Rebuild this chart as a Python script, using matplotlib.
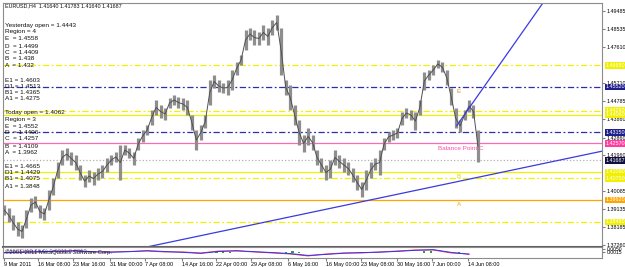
import numpy as np
import matplotlib.pyplot as plt
from matplotlib.transforms import blended_transform_factory

plt.rcParams['font.family'] = ['Liberation Sans', 'DejaVu Sans']

# one sample = 4 H4 bars (high / low)
BARS_PER_SAMPLE = 4
high = [1.3936, 1.3920, 1.3884, 1.3847, 1.3831, 1.3910, 1.3972, 1.3983, 1.3936, 1.3920,
        1.4014, 1.4076, 1.4160, 1.4223, 1.4233, 1.4213, 1.4197, 1.4145, 1.4092, 1.4118,
        1.4108, 1.4129, 1.4145, 1.4181, 1.4197, 1.4213, 1.4249, 1.4249, 1.4233, 1.4213,
        1.4286, 1.4327, 1.4353, 1.4432, 1.4484, 1.4458, 1.4442, 1.4494, 1.4510, 1.4499,
        1.4494, 1.4484, 1.4406, 1.4327, 1.4353, 1.4406, 1.4588, 1.4614, 1.4588, 1.4573,
        1.4588, 1.4641, 1.4682, 1.4719, 1.4849, 1.4860, 1.4849, 1.4839, 1.4876, 1.4860,
        1.4902, 1.4928, 1.4860, 1.4588, 1.4562, 1.4458, 1.4380, 1.4301, 1.4338, 1.4301,
        1.4223, 1.4181, 1.4145, 1.4171, 1.4223, 1.4197, 1.4181, 1.4160, 1.4129, 1.4092,
        1.4055, 1.4118, 1.4160, 1.4181, 1.4223, 1.4286, 1.4317, 1.4327, 1.4338, 1.4421,
        1.4442, 1.4432, 1.4421, 1.4484, 1.4630, 1.4641, 1.4666, 1.4693, 1.4682, 1.4641,
        1.4547, 1.4442, 1.4380, 1.4432, 1.4484, 1.4458, 1.4327]
low = [1.3884, 1.3847, 1.3805, 1.3774, 1.3764, 1.3816, 1.3899, 1.3920, 1.3868, 1.3857,
       1.3910, 1.3988, 1.4076, 1.4145, 1.4171, 1.4145, 1.4118, 1.4066, 1.4029, 1.4055,
       1.4040, 1.4066, 1.4076, 1.4108, 1.4145, 1.4160, 1.4066, 1.4197, 1.4181, 1.4145,
       1.4223, 1.4265, 1.4301, 1.4353, 1.4406, 1.4390, 1.4380, 1.4442, 1.4458, 1.4442,
       1.4432, 1.4406, 1.4327, 1.4223, 1.4275, 1.4338, 1.4458, 1.4547, 1.4526, 1.4520,
       1.4510, 1.4536, 1.4614, 1.4666, 1.4745, 1.4797, 1.4771, 1.4771, 1.4797, 1.4771,
       1.4823, 1.4849, 1.4614, 1.4510, 1.4432, 1.4353, 1.4249, 1.4213, 1.4249, 1.4223,
       1.4145, 1.4108, 1.4066, 1.4076, 1.4145, 1.4129, 1.4108, 1.4092, 1.4055, 1.4014,
       1.3978, 1.4014, 1.4076, 1.4118, 1.4092, 1.4223, 1.4265, 1.4275, 1.4286, 1.4353,
       1.4390, 1.4380, 1.4327, 1.4406, 1.4536, 1.4588, 1.4614, 1.4651, 1.4630, 1.4562,
       1.4458, 1.4338, 1.4317, 1.4380, 1.4421, 1.4390, 1.4160]
last_close = 1.41687

x_labels = ["9 Mar 2011", "16 Mar 08:00", "23 Mar 16:00", "31 Mar 00:00", "7 Apr 08:00",
            "14 Apr 16:00", "22 Apr 00:00", "29 Apr 08:00", "6 May 16:00", "16 May 00:00",
            "23 May 08:00", "30 May 16:00", "7 Jun 00:00", "14 Jun 08:00"]
x_label_bars = [0, 30, 62, 95, 126, 159, 190, 221, 254, 288, 319, 352, 383, 415]

y_ticks = [1.49485, 1.48535, 1.47610, 1.45710, 1.44785, 1.43860, 1.42860, 1.41960,
           1.40085, 1.39135, 1.38185, 1.37260]

# level lines: price, colour, style, box colour
levels = [1.4665, 1.4552, 1.4429, 1.4406, 1.4315, 1.4257, 1.41687, 1.4109, 1.4075, 1.3962, 1.3848]
level_colors = ['#f0f000', '#2e2ea8', '#f0f000', '#f0f000', '#2e2ea8', '#ff69b4',
                '#b0b0b0', '#f0f000', '#f0f000', '#ffa500', '#f0f000']
level_styles = ['dashdot', 'dashdot', 'dashdot', 'solid', 'dashdot', 'solid',
                'dotted', 'solid', 'dashdot', 'solid', 'dashdot']
box_colors = ['#f0f000', '#1e1e8c', '#f0f000', '#f0f000', '#1e1e8c', '#ff3fa0',
              '#101040', '#f0f000', '#f0f000', '#ffa500', '#f0f000']

# trend lines (bar, price) anchors; the second one is a ray
trend1 = [(128, 1.3717), (536, 1.4218)]
trend2 = [(405, 1.4350), (484, 1.5006)]

# bottom oscillator, one value every 16 bars
osc_step = 16
osc_red = [0.0003, 0.0015, 0.0015, 0.0026, 0.0026, 0.0015, 0.0015, 0.0021, 0.0026, 0.0015,
           0.0015, 0.0003, 0.0026, 0.0026, 0.0015, 0.0003, -0.0009, -0.0032, -0.0009, 0.0003,
           0.0003, 0.0015, 0.0026, 0.0038, 0.0038, 0.0003, -0.0009]
osc_blue = [0.0008, 0.0012, 0.0020, 0.0022, 0.0030, 0.0018, 0.0012, 0.0018, 0.0030, 0.0020,
            0.0010, -0.0002, 0.0020, 0.0030, 0.0018, 0.0008, -0.0004, -0.0026, -0.0014, 0.0000,
            0.0008, 0.0012, 0.0022, 0.0034, 0.0042, 0.0010, -0.0012]
green_bars = [190, 196, 202, 252, 258, 264, 320, 376, 382, 407]
green_vals = [0.0022, 0.0025, 0.0020, 0.0018, 0.0022, 0.0015, 0.0015, 0.0025, 0.0022, 0.0012]

W, H = 625, 267
fig = plt.figure(figsize=(W / 100, H / 100), dpi=100)
ax = fig.add_axes([3 / W, 20 / H, 599 / W, 244 / H])
axi = fig.add_axes([3 / W, 9 / H, 599 / W, 11 / H], sharex=ax)

xs = np.arange(len(high)) * BARS_PER_SAMPLE
hi = np.array(high)
lo = np.array(low)
ax.vlines(xs, lo, hi, color='#8e8e8e', lw=2.3, zorder=2)
ax.plot(xs, (hi + lo) / 2, color='#505050', lw=0.7, zorder=2)

for p, c, s in zip(levels, level_colors, level_styles):
    ls = (0, (5, 2, 1.5, 2)) if s == 'dashdot' else s
    ax.axhline(p, color=c, lw=0.9, ls=ls, zorder=1)

ax.axline(trend1[0], trend1[1], color='#3a3ae0', lw=0.9)
slope = (trend2[1][1] - trend2[0][1]) / (trend2[1][0] - trend2[0][0])
ax.plot([trend2[0][0], 535], [trend2[0][1], trend2[0][1] + slope * (535 - trend2[0][0])],
        color='#3a3ae0', lw=0.9)

ax.text(405, 1.4526, 'E', color='#d89030', fontsize=4.6, va='center', zorder=5)
ax.text(388, 1.4233, 'Balance Point C', color='#ff4fa8', fontsize=4.6, va='center', zorder=5)
ax.text(405, 1.4087, 'B', color='#d8d800', fontsize=4.6, va='center', zorder=5)
ax.text(405, 1.3941, 'A', color='#ffa500', fontsize=4.6, va='center', zorder=5)

ax.set_xlim(-1, 535)
ax.set_ylim(1.37166, 1.49903)
ax.yaxis.tick_right()
ax.set_yticks(y_ticks)
ax.set_yticklabels(['%.5f' % v for v in y_ticks])
ax.tick_params(axis='y', labelsize=3.9, length=2, pad=1.5, color='#808080')
ax.tick_params(axis='x', bottom=False, labelbottom=False)
for sp in ax.spines.values():
    sp.set_color('#8c8c8c')
    sp.set_linewidth(0.8)
ax.spines['bottom'].set_color('#606060')
ax.spines['bottom'].set_linewidth(1.5)

tr = blended_transform_factory(ax.transAxes, ax.transData)
for p, c in zip(levels, box_colors):
    ax.text(1.006, p, '%.5f' % p, transform=tr, fontsize=3.9, color='white', va='center',
            ha='left', clip_on=False,
            bbox=dict(boxstyle='square,pad=0.15', fc=c, ec='none'))

# oscillator panel
xo = np.arange(len(osc_red)) * osc_step
axi.bar(green_bars, green_vals, width=2, color='#22aa22')
axi.plot(xo, osc_red, color='#ff3030', lw=0.7)
axi.plot(xo, osc_blue, color='#3030ff', lw=0.7)
axi.set_ylim(-0.0056, 0.0073)
axi.yaxis.tick_right()
axi.set_yticks([0.0050, 0.0015])
axi.set_yticklabels(['0.0050', '0.0015'])
axi.tick_params(axis='y', labelsize=3.6, length=2, pad=1.5, color='#808080')
axi.set_xticks(x_label_bars)
axi.set_xticklabels(x_labels, ha='left')
axi.tick_params(axis='x', labelsize=3.9, length=2, pad=1, color='#808080')
for sp in axi.spines.values():
    sp.set_color('#8c8c8c')
    sp.set_linewidth(0.8)
axi.text(0.004, 0.5, '\u00a92001-2011 MetaQuotes Software Corp.', transform=axi.transAxes,
         fontsize=4.2, va='center', color='#202020')
axi.text(0.006, 0.55, 'MACD(12,26,9) 0.0011 0.0013', transform=axi.transAxes,
         fontsize=4.2, va='center', color='#303080', alpha=0.7)

# info block on the left (screen positions)
fig.text(5 / W, 1 - 6 / H, 'EURUSD,H4  1.41640 1.41783 1.41640 1.41687', fontsize=3.9,
         va='center', color='#101010')
info = [(25, 'Yesterday open = 1.4443'), (32, 'Region = 4'), (39, 'E  = 1.4558'),
        (46, 'D  = 1.4499'), (52, 'C  = 1.4409'), (59, 'B  = 1.438'), (66, 'A  = 1.432'),
        (80, 'E1 = 1.4603'), (86, 'D1 = 1.4513'), (93, 'B1 = 1.4365'), (99, 'A1 = 1.4275'),
        (113, 'Today open = 1.4062'), (119, 'Region = 3'), (126, 'E  = 1.4552'),
        (133, 'D  = 1.4406'), (139, 'C  = 1.4257'), (146, 'B  = 1.4109'), (152, 'A  = 1.3962'),
        (166, 'E1 = 1.4665'), (172, 'D1 = 1.4429'), (179, 'B1 = 1.4075'), (186, 'A1 = 1.3848')]
for ypx, s in info:
    fig.text(5 / W, 1 - ypx / H, s, fontsize=4.6, va='center', color='#101010')

fig.savefig('out.png', dpi=100)
